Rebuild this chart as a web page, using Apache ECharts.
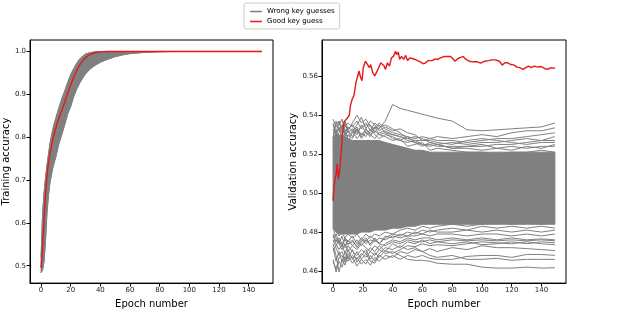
<!DOCTYPE html>
<html lang="en">
<head>
<meta charset="utf-8">
<title>Training / validation accuracy</title>
<script src="https://cdn.jsdelivr.net/npm/echarts@6/dist/echarts.min.js"></script>
<style>
  html, body { margin: 0; padding: 0; background: #fff; }
  #main { width: 634px; height: 314px; }
</style>
</head>
<body>
<div id="main"></div>
<script>
// ---- data ----
const WRONG = 'Wrong key guesses';
const GOOD = 'Good key guess';

// left panel: training accuracy
const trainEpochs = [0,1,2,3,4,5,6,8,10,12,14,16,18,20,22,24,26,28,30,33,36,40,45,50,55,60,70,80,90,100,120,149];
const trainGood = [0.495,0.54,0.61,0.665,0.71,0.74,0.76,0.797,0.822,0.845,0.863,0.882,0.904,0.922,0.94,0.955,0.968,0.978,0.986,0.993,0.997,0.999,1.0,1.0,1.0,1.0,1.0,1.0,1.0,1.0,1.0,1.0];
// envelope of the wrong-key curves (the solid grey band)
const trainWrongHigh = [0.52,0.62,0.67,0.705,0.735,0.76,0.785,0.82,0.845,0.868,0.89,0.908,0.928,0.946,0.96,0.972,0.982,0.989,0.994,0.997,0.999,1.0,1.0,1.0,1.0,1.0,1.0,1.0,1.0,1.0,1.0,1.0];
const trainWrongLow = [0.484,0.49,0.51,0.56,0.625,0.665,0.695,0.73,0.755,0.785,0.807,0.83,0.855,0.872,0.895,0.912,0.926,0.938,0.948,0.959,0.967,0.975,0.982,0.988,0.992,0.995,0.998,0.9995,1.0,1.0,1.0,1.0];

// right panel: validation accuracy
const valGoodEpochs = [0,0.7,1.4,2.3,2.7,3.6,4.5,5.4,6.3,7.4,8.4,9.5,10.9,11.7,12.9,14,15.4,16.5,17.4,18.5,19.4,20.3,21.7,23,24.4,25.3,26.6,28,29.3,30.7,32,32.9,34.3,35.2,36.5,37.9,39.2,40.6,41.9,42.8,43.8,44.7,46,47.4,48.7,50.1,51.4,53.2,55,56.8,58.6,60.4,62.2,63.6,64.9,66.7,68.5,70.3,72.1,74.4,76.6,78.9,80.3,82,83.8,85.6,87.4,89.3,91.5,93.8,96.9,99.2,101.9,104.6,106.8,109.1,110.4,111.8,113.6,115.4,117.2,119.5,121.7,123.5,125.3,127.6,129.4,131.2,133,135.2,137.5,139.3,141.1,142.9,144.7,146.5,148.3,149];
const valGood = [0.496,0.504,0.5073,0.5107,0.5149,0.5073,0.5124,0.5207,0.5308,0.5367,0.5358,0.5384,0.54,0.5451,0.5484,0.5501,0.5568,0.5577,0.5627,0.5593,0.5577,0.5644,0.5677,0.5669,0.5644,0.566,0.5618,0.5602,0.561,0.5644,0.5669,0.5677,0.5652,0.5635,0.5669,0.5652,0.5694,0.5702,0.5728,0.5711,0.5724,0.5686,0.5702,0.5686,0.5707,0.568,0.5694,0.5691,0.5686,0.568,0.5674,0.5664,0.5669,0.568,0.5684,0.568,0.5689,0.5686,0.5694,0.5701,0.5701,0.5701,0.5691,0.5677,0.5691,0.5697,0.5701,0.5686,0.5677,0.5674,0.5674,0.5667,0.5677,0.568,0.5684,0.5684,0.5691,0.5677,0.5657,0.5669,0.5669,0.566,0.5657,0.5647,0.5644,0.5635,0.5644,0.5652,0.5644,0.5652,0.5647,0.565,0.5644,0.5637,0.5637,0.5644,0.564,0.5644];

const valEpochs = [0,2,4,6,8,10,13,16,19,22,25,28,31,35,40,45,50,55,60,65,70,80,90,100,110,120,130,140,149];
// dense core of the wrong-key curves
const valCoreLow = [0.482,0.480,0.479,0.479,0.479,0.479,0.479,0.479,0.480,0.480,0.480,0.481,0.481,0.481,0.482,0.482,0.483,0.483,0.484,0.484,0.484,0.484,0.484,0.484,0.484,0.484,0.484,0.484,0.484];
const valCoreHigh = [0.529,0.530,0.530,0.529,0.529,0.528,0.527,0.527,0.527,0.527,0.527,0.527,0.527,0.526,0.525,0.524,0.523,0.522,0.522,0.521,0.521,0.521,0.521,0.521,0.521,0.521,0.521,0.521,0.521];
// individual wrong-key curves around the edges of the bundle
const valWrong0 = [0.522,0.527,0.524,0.529,0.526,0.530,0.528,0.533,0.530,0.532,0.531,0.534,0.533,0.537,0.5455,0.5435,0.5425,0.5415,0.5405,0.5395,0.5385,0.537,0.5325,0.532,0.5325,0.533,0.5335,0.534,0.536];
const valWrong1 = [0.536,0.531,0.537,0.533,0.535,0.532,0.536,0.540,0.536,0.538,0.534,0.533,0.536,0.533,0.531,0.530,0.529,0.528,0.529,0.528,0.529,0.528,0.529,0.530,0.529,0.531,0.532,0.532,0.5335];
const valWrong2 = [0.538,0.534,0.535,0.538,0.530,0.534,0.532,0.535,0.539,0.533,0.537,0.535,0.532,0.534,0.532,0.533,0.531,0.530,0.527,0.528,0.527,0.527,0.526,0.527,0.528,0.528,0.529,0.530,0.531];
const valWrong3 = [0.528,0.537,0.532,0.534,0.537,0.533,0.535,0.531,0.534,0.536,0.532,0.536,0.534,0.535,0.533,0.531,0.528,0.529,0.528,0.526,0.525,0.526,0.525,0.526,0.526,0.527,0.528,0.527,0.529];
const valWrong4 = [0.530,0.535,0.537,0.531,0.534,0.536,0.534,0.537,0.533,0.535,0.535,0.531,0.535,0.531,0.530,0.529,0.527,0.526,0.525,0.525,0.524,0.524,0.524,0.524,0.525,0.525,0.526,0.527,0.527];
const valWrong5 = [0.526,0.530,0.534,0.528,0.531,0.529,0.532,0.528,0.531,0.529,0.533,0.530,0.528,0.530,0.529,0.527,0.526,0.527,0.525,0.524,0.525,0.523,0.523,0.522,0.523,0.524,0.523,0.524,0.524];
const valWrong6 = [0.533,0.529,0.531,0.535,0.529,0.532,0.529,0.533,0.528,0.531,0.530,0.532,0.530,0.529,0.527,0.528,0.524,0.525,0.526,0.522,0.523,0.522,0.521,0.521,0.520,0.521,0.521,0.522,0.521];
const valWrong7 = [0.524,0.532,0.528,0.530,0.533,0.527,0.531,0.534,0.529,0.533,0.530,0.528,0.531,0.532,0.530,0.529,0.528,0.527,0.527,0.527,0.526,0.525,0.527,0.528,0.527,0.526,0.525,0.526,0.526];
const valWrong8 = [0.535,0.530,0.533,0.529,0.536,0.531,0.533,0.530,0.535,0.531,0.529,0.534,0.530,0.531,0.528,0.527,0.529,0.526,0.524,0.526,0.525,0.523,0.524,0.525,0.523,0.522,0.524,0.523,0.525];
const valWrong9 = [0.466,0.4595,0.465,0.462,0.467,0.465,0.468,0.466,0.469,0.467,0.470,0.468,0.471,0.469,0.470,0.468,0.466,0.4655,0.4655,0.465,0.464,0.4635,0.4635,0.462,0.4615,0.4615,0.462,0.4615,0.4617];
const valWrong10 = [0.474,0.468,0.4595,0.466,0.463,0.468,0.464,0.467,0.4635,0.466,0.463,0.467,0.465,0.468,0.467,0.470,0.469,0.471,0.470,0.468,0.467,0.468,0.466,0.466,0.4665,0.4655,0.466,0.466,0.466];
const valWrong11 = [0.476,0.472,0.468,0.470,0.466,0.471,0.466,0.470,0.466,0.4635,0.468,0.465,0.469,0.472,0.471,0.473,0.471,0.472,0.470,0.4715,0.470,0.472,0.471,0.473,0.472,0.472,0.4715,0.471,0.4705];
const valWrong12 = [0.478,0.474,0.471,0.4735,0.469,0.473,0.470,0.468,0.471,0.469,0.472,0.470,0.473,0.470,0.474,0.472,0.475,0.474,0.476,0.474,0.475,0.474,0.475,0.4735,0.474,0.475,0.474,0.475,0.4745];
const valWrong13 = [0.475,0.476,0.474,0.471,0.474,0.470,0.473,0.471,0.474,0.472,0.470,0.473,0.471,0.474,0.476,0.475,0.477,0.476,0.477,0.477,0.476,0.477,0.476,0.477,0.476,0.477,0.476,0.4765,0.476];
const valWrong14 = [0.479,0.475,0.477,0.474,0.476,0.474,0.475,0.473,0.476,0.474,0.476,0.475,0.477,0.476,0.478,0.477,0.478,0.478,0.479,0.478,0.479,0.479,0.478,0.479,0.479,0.478,0.479,0.478,0.479];
const valWrong15 = [0.472,0.465,0.470,0.4645,0.470,0.466,0.471,0.4645,0.468,0.471,0.466,0.4695,0.467,0.4705,0.469,0.471,0.473,0.4725,0.474,0.473,0.4735,0.473,0.474,0.475,0.4745,0.474,0.475,0.474,0.4735];
const valWrong16 = [0.465,0.461,0.467,0.468,0.4645,0.469,0.467,0.4625,0.466,0.469,0.465,0.464,0.468,0.466,0.468,0.466,0.468,0.467,0.468,0.4665,0.466,0.466,0.4675,0.468,0.468,0.467,0.4685,0.4685,0.468];
const valWrong17 = [0.482,0.477,0.474,0.478,0.472,0.476,0.473,0.476,0.473,0.476,0.474,0.477,0.474,0.477,0.479,0.478,0.480,0.479,0.481,0.480,0.481,0.482,0.481,0.483,0.482,0.483,0.482,0.483,0.482];
const valWrong18 = [0.477,0.479,0.475,0.473,0.477,0.475,0.478,0.474,0.477,0.475,0.478,0.476,0.474,0.478,0.477,0.479,0.478,0.480,0.479,0.481,0.480,0.480,0.481,0.480,0.481,0.480,0.481,0.480,0.481];
const valWrong19 = [0.483,0.480,0.478,0.480,0.477,0.479,0.477,0.479,0.476,0.479,0.477,0.479,0.478,0.480,0.479,0.481,0.482,0.481,0.483,0.482,0.483,0.484,0.483,0.484,0.485,0.484,0.485,0.484,0.485];
const valWrong20 = [0.470,0.473,0.476,0.4725,0.477,0.4735,0.476,0.472,0.475,0.477,0.473,0.476,0.474,0.473,0.475,0.474,0.476,0.475,0.475,0.476,0.475,0.476,0.4755,0.476,0.4755,0.476,0.4755,0.476,0.4755];
const valWrongLines = [valWrong0,valWrong1,valWrong2,valWrong3,valWrong4,valWrong5,valWrong6,valWrong7,valWrong8,valWrong9,valWrong10,
  valWrong11,valWrong12,valWrong13,valWrong14,valWrong15,valWrong16,valWrong17,valWrong18,valWrong19,valWrong20];

const epochTicks = [0,20,40,60,80,100,120,140];
const trainTicks = [0.5,0.6,0.7,0.8,0.9,1.0];
const valTicks = [0.46,0.48,0.50,0.52,0.54,0.56];

// ---- chart ----
const GRAY = '#808080';
const RED = '#e31a1c';
const FONT = 'DejaVu Sans';

function pairs(xs, ys) {
  return xs.map((x, i) => [x, ys[i]]);
}

function line(gi, xs, ys, name, color, width) {
  return {
    type: 'line', name: name, xAxisIndex: gi, yAxisIndex: gi,
    data: pairs(xs, ys), symbol: 'none', silent: true,
    lineStyle: { color: color, width: width }, itemStyle: { color: color }
  };
}

// filled band between two curves, positioned with the axes' coord()
function band(gi, xs, lo, hi) {
  return {
    type: 'custom', name: WRONG, xAxisIndex: gi, yAxisIndex: gi, silent: true,
    data: [[xs[0], lo[0]]], itemStyle: { color: GRAY },
    renderItem: function (params, api) {
      const top = xs.map((x, i) => api.coord([x, hi[i]]));
      const bottom = xs.map((x, i) => api.coord([x, lo[i]])).reverse();
      return {
        type: 'polygon', shape: { points: top.concat(bottom) },
        style: { fill: GRAY, stroke: GRAY, lineWidth: 1 }
      };
    }
  };
}

function xAxis(gi) {
  return {
    type: 'value', gridIndex: gi, min: -7.45, max: 156.45,
    name: 'Epoch number', nameLocation: 'middle', nameGap: 12,
    nameTextStyle: { fontFamily: FONT, fontSize: 10, color: '#000' },
    axisLine: { show: true, onZero: false, lineStyle: { color: '#000', width: 1 } },
    axisTick: { show: true, length: 3.5, customValues: epochTicks, lineStyle: { color: '#000' } },
    axisLabel: { customValues: epochTicks, fontFamily: FONT, fontSize: 7, color: '#222', margin: 4 },
    splitLine: { show: false }
  };
}

function yAxis(gi, name, min, max, ticks, digits, gap) {
  return {
    type: 'value', gridIndex: gi, min: min, max: max,
    name: name, nameLocation: 'middle', nameGap: gap,
    nameTextStyle: { fontFamily: FONT, fontSize: 10, color: '#000' },
    axisLine: { show: true, onZero: false, lineStyle: { color: '#000', width: 1 } },
    axisTick: { show: true, length: 3.5, customValues: ticks, lineStyle: { color: '#000' } },
    axisLabel: {
      customValues: ticks, fontFamily: FONT, fontSize: 7, color: '#222', margin: 4,
      formatter: v => v.toFixed(digits)
    },
    splitLine: { show: false }
  };
}

const series = [];
series.push(line(1, valEpochs, valWrong0, WRONG, GRAY, 1));
series.push(band(0, trainEpochs, trainWrongLow, trainWrongHigh));
series.push(line(0, trainEpochs, trainWrongLow, WRONG, GRAY, 1));
series.push(line(0, trainEpochs, trainWrongHigh, WRONG, GRAY, 1));
series.push(band(1, valEpochs, valCoreLow, valCoreHigh));
valWrongLines.slice(1).forEach(ys => series.push(line(1, valEpochs, ys, WRONG, GRAY, 1)));
series.push(line(0, trainEpochs, trainGood, GOOD, RED, 1.4));
series.push(line(1, valGoodEpochs, valGood, GOOD, RED, 1.4));

const chart = echarts.init(document.getElementById('main'), null, { renderer: 'canvas' });
chart.setOption({
  animation: false,
  backgroundColor: '#fff',
  legend: {
    left: 244, top: 3,
    orient: 'vertical',
    padding: [4, 5, 3, 6],
    itemGap: 1, itemWidth: 12, itemHeight: 1.5,
    backgroundColor: '#fff', borderColor: '#cccccc', borderWidth: 1, borderRadius: 2,
    textStyle: { fontFamily: FONT, fontSize: 7, color: '#000', lineHeight: 9 },
    data: [{ name: WRONG, icon: 'rect' }, { name: GOOD, icon: 'rect' }]
  },
  grid: [
    { left: 29, top: 40, width: 244, height: 248, show: true, borderColor: '#000', borderWidth: 1 },
    { left: 322, top: 40, width: 244, height: 248, show: true, borderColor: '#000', borderWidth: 1 }
  ],
  xAxis: [xAxis(0), xAxis(1)],
  yAxis: [
    yAxis(0, 'Training accuracy', 0.4595, 1.0268, trainTicks, 1, 16),
    yAxis(1, 'Validation accuracy', 0.4538, 0.5786, valTicks, 2, 22)
  ],
  series: series
});
</script>
</body>
</html>
